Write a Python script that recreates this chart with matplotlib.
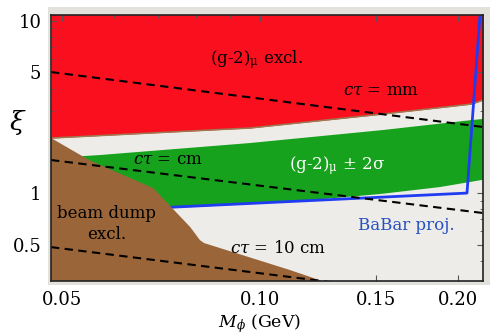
import matplotlib
matplotlib.use("Agg")
import matplotlib.pyplot as plt
from matplotlib.patches import Rectangle
from matplotlib.ticker import FixedLocator, FixedFormatter, NullFormatter

plt.rcParams["font.family"] = ["DejaVu Serif"]
plt.rcParams["mathtext.fontset"] = "dejavuserif"

# region boundaries (x = M_phi in GeV, y = xi)
red_x = [0.0481, 0.0965, 0.1537, 0.2100, 0.2182]
red_y = [2.077, 2.375, 2.864, 3.275, 3.453]

green_top_x = [0.0470, 0.0571, 0.0965, 0.1537, 0.2100, 0.2200]
green_top_y = [1.580, 1.655, 1.943, 2.312, 2.643, 2.690]
green_low_x = [0.2200, 0.1877, 0.1521, 0.1150, 0.0965, 0.0737, 0.0470]
green_low_y = [1.195, 1.0785, 0.9822, 0.8942, 0.8589, 0.8143, 0.750]

brown_x = [0.0470, 0.0481, 0.0551, 0.0688, 0.0735, 0.0783, 0.0810, 0.0822, 0.1111, 0.1242, 0.1300, 0.0470]
brown_y = [2.077, 2.077, 1.540, 1.064, 0.8143, 0.6316, 0.5307, 0.5098, 0.3552, 0.307, 0.28, 0.28]

babar_x = [0.0725, 0.2063, 0.2160]
babar_y = [0.822, 0.995, 11.0]

ctau_x = [0.0481, 0.2182]
ctau_mm = [5.02, 2.408]
ctau_cm = [1.548, 0.762]
ctau_10cm = [0.483, 0.2346]

x_ticks = [0.05, 0.10, 0.15, 0.20]
x_labels = ["0.05", "0.10", "0.15", "0.20"]
y_ticks = [0.5, 1, 5, 10]
y_labels = ["0.5", "1", "5", "10"]

RED = "#fa0f1e"
GREEN = "#17a21e"
BROWN = "#9a6538"
BLUE = "#1f3cf2"


def main():
    fig = plt.figure(figsize=(4.98, 3.36), dpi=100)
    fig.patches.append(Rectangle((0.0964, 0.1518), 0.8876, 0.8274, transform=fig.transFigure,
                                 facecolor="#e3e1dc", edgecolor="none", zorder=-1))
    ax = fig.add_axes([0.1024, 0.1637, 0.8675, 0.7917])
    ax.set_zorder(2)
    ax.set_facecolor("#eeece8")
    ax.set_xscale("log")
    ax.set_yscale("log")

    ax.fill_between(red_x, red_y, 20, color=RED, lw=0, zorder=1)
    ax.plot(red_x, red_y, color="#9c7a52", lw=1.1, zorder=1.5)
    ax.fill(green_top_x + green_low_x, green_top_y + green_low_y, color=GREEN, lw=0, zorder=2)
    ax.plot(babar_x, babar_y, color=BLUE, lw=2.0, zorder=3)
    ax.fill(brown_x, brown_y, color=BROWN, lw=0, zorder=4)

    for ys in (ctau_mm, ctau_cm, ctau_10cm):
        ax.plot(ctau_x, ys, color="black", lw=1.5, ls=(0, (4, 2.6)), zorder=5)

    kw = dict(ha="center", va="center", fontsize=12, zorder=6)
    ax.text(0.0986, 5.90, "(g-2)$_\\mathregular{μ}$ excl.", **kw)
    ax.text(0.1527, 3.95, "$c\\tau$ = mm", **kw)
    ax.text(0.0725, 1.569, "$c\\tau$ = cm", **kw)
    ax.text(0.1309, 1.447, "(g-2)$_\\mathregular{μ}$ ± 2σ", color="white", **kw)
    ax.text(0.0585, 0.655, "beam dump\nexcl.", linespacing=1.3, **kw)
    ax.text(0.1065, 0.4769, "$c\\tau$ = 10 cm", **kw)
    ax.text(0.1666, 0.6486, "BaBar proj.", color="#2650c0", **kw)

    ax.set_xlim(0.0481, 0.2182)
    ax.set_ylim(0.307, 10.77)
    ax.xaxis.set_major_locator(FixedLocator(x_ticks))
    ax.xaxis.set_major_formatter(FixedFormatter(x_labels))
    ax.xaxis.set_minor_formatter(NullFormatter())
    ax.yaxis.set_major_locator(FixedLocator(y_ticks))
    ax.yaxis.set_major_formatter(FixedFormatter(y_labels))
    ax.yaxis.set_minor_formatter(NullFormatter())
    ax.tick_params(which="both", direction="in", top=True, right=True, color="#555555")
    ax.tick_params(which="major", length=4, width=0.8, labelsize=13, pad=7)
    ax.tick_params(which="minor", length=2, width=0.6)
    for s in ax.spines.values():
        s.set_linewidth(1.2)
        s.set_color("#222222")
        s.set_zorder(7)

    ax.set_xlabel("$M_\\phi$ (GeV)", fontsize=12.5)
    ax.xaxis.set_label_coords(0.484, -0.118)
    ax.set_ylabel("$\\xi$", fontsize=19, rotation=0)
    ax.yaxis.set_label_coords(-0.076, 0.541)

    fig.savefig("out.png", dpi=100)
    plt.close(fig)


if __name__ == "__main__":
    main()
